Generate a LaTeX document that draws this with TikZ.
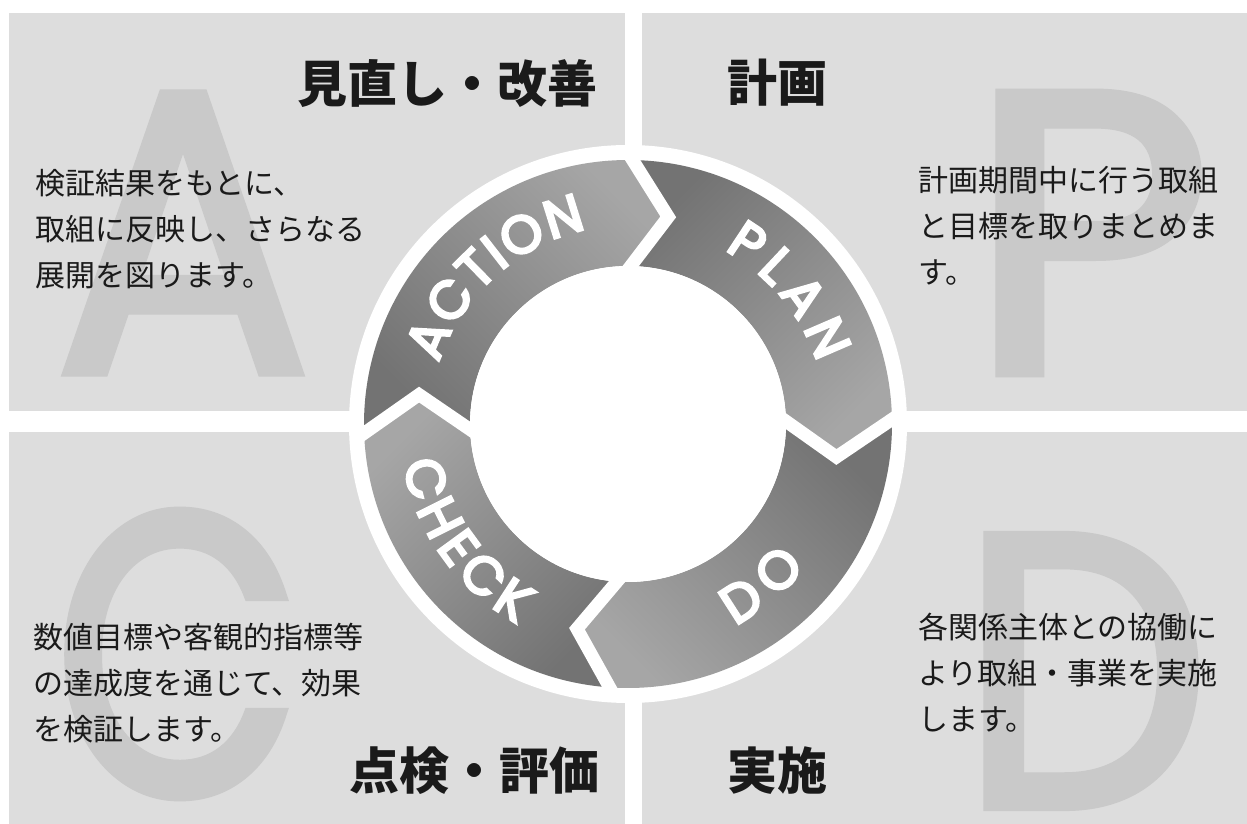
\documentclass[tikz,border=0pt]{standalone}
\usepackage{fontspec}
\newfontfamily\jp{Noto Sans CJK JP}
\newfontfamily\pop{Poppins}[FakeBold=5]
\newfontfamily\popbig{Poppins}[FakeBold=2.5]
\usetikzlibrary{decorations.text,calc}
\definecolor{panelgray}{HTML}{DDDDDD}
\definecolor{biglettergray}{HTML}{C9C9C9}
\definecolor{segdark}{HTML}{737373}
\definecolor{seglight}{HTML}{A6A6A6}
\definecolor{txt}{HTML}{1A1A1A}
\begin{document}
\begin{tikzpicture}[x=1pt,y=1pt,
  panel/.style={fill=panelgray},
  bigletter/.style={text=biglettergray, font=\popbig\fontsize{400}{400}\selectfont, inner sep=0pt},
  heading/.style={font=\jp\bfseries\fontsize{50}{50}\selectfont, inner sep=0pt, text=txt},
  body/.style={font=\jp\fontsize{30}{46}\selectfont, align=left, inner sep=0pt, text=txt},
  gapline/.style={draw=white, line width=13pt, line join=miter},
  arctext/.style={decorate, decoration={text along path, text align=fit to path, text color=white, text={|\pop\fontsize{53}{53}\selectfont\color{white}|#1}}},
]
\useasboundingbox (0,0) rectangle (1247,824);
\fill[white] (0,0) rectangle (1247,824);
% panels
\path[panel] (9,413) rectangle (625,811);
\path[panel] (642,413) rectangle (1247,811);
\path[panel] (9,0) rectangle (625,392);
\path[panel] (642,0) rectangle (1247,392);
% big background letters
\node[bigletter, xscale=0.95] (bigA) at (183,591) {A};
\node[bigletter, xscale=1.05] (bigP) at (1090,591) {P};
\node[bigletter, xscale=0.8] (bigC) at (178,170) {C};
\node[bigletter, xscale=0.88, yscale=0.97] (bigD) at (1085,153) {D};
% headings
\node[heading, anchor=east] (hA) at (598,740) {見直し・改善};
\node[heading, anchor=west] (hP) at (727,741) {計画};
\node[heading, anchor=east] (hC) at (600,53) {点検・評価};
\node[heading, anchor=west] (hD) at (727,53) {実施};
% body texts
\node[body, anchor=west] (tA) at (35,595) {検証結果をもとに、\\取組に反映し、さらなる\\展開を図ります。};
\node[body, anchor=west] (tP) at (918,598) {計画期間中に行う取組\\と目標を取りまとめま\\す。};
\node[body, anchor=west] (tC) at (33,141) {数値目標や客観的指標等\\の達成度を通じて、効果\\を検証します。};
\node[body, anchor=west] (tD) at (918,151) {各関係主体との協働に\\より取組・事業を実施\\します。};
% ring
\begin{scope}[shift={(628,400)}]
  \def\Ro{264pt}\def\Ri{158pt}\def\Rm{211pt}
  \fill[white] (0,0) circle[radius=279pt];
  % ACTION
  \shade[top color=seglight, bottom color=segdark, shading angle=-45]
    (182:\Ro) arc[start angle=182, end angle=89, radius=\Ro] -- (79:\Rm) -- (89:\Ri)
    arc[start angle=89, end angle=182, radius=\Ri] -- (172:\Rm) -- cycle;
  % PLAN
  \shade[top color=segdark, bottom color=seglight, shading angle=45]
    (89:\Ro) arc[start angle=89, end angle=1, radius=\Ro] -- (-9:\Rm) -- (1:\Ri)
    arc[start angle=1, end angle=89, radius=\Ri] -- (79:\Rm) -- cycle;
  % DO
  \shade[top color=segdark, bottom color=seglight, shading angle=-45]
    (1:\Ro) arc[start angle=1, end angle=-94, radius=\Ro] -- (-104:\Rm) -- (-94:\Ri)
    arc[start angle=-94, end angle=1, radius=\Ri] -- (-9:\Rm) -- cycle;
  % CHECK
  \shade[top color=seglight, bottom color=segdark, shading angle=45]
    (266:\Ro) arc[start angle=266, end angle=182, radius=\Ro] -- (172:\Rm) -- (182:\Ri)
    arc[start angle=182, end angle=266, radius=\Ri] -- (256:\Rm) -- cycle;
  % white chevron gaps
  \foreach \a in {89,1,-94,182}{
    \coordinate (tip) at ({\a-10}:\Rm);
    \draw[gapline] ($(tip)!1.3!(\a:\Ri)$) -- (tip) -- ($(tip)!1.15!(\a:\Ro)$);
  }
  \fill[white] (0,0) circle[radius=\Ri];
  % labels
  \path[arctext=ACTION] (162:199pt) arc[start angle=162, end angle=102, radius=199pt];
  \path[arctext=PLAN] (61:199pt) arc[start angle=61, end angle=18, radius=199pt];
  \path[arctext=DO] (-62:228pt) arc[start angle=-62, end angle=-39, radius=228pt];
  \path[arctext=CHECK] (190:228pt) arc[start angle=190, end angle=241, radius=228pt];
\end{scope}
\end{tikzpicture}
\end{document}
